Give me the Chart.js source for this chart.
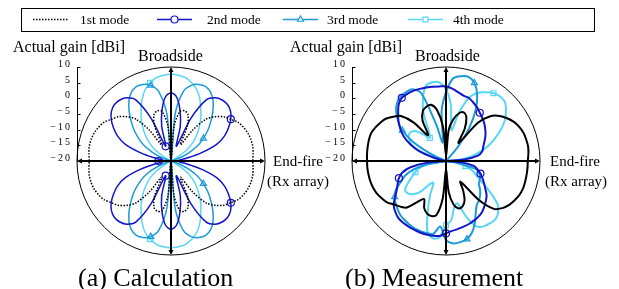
<!DOCTYPE html>
<html>
<head>
<meta charset="utf-8">
<script src="https://cdn.jsdelivr.net/npm/chart.js@4.4.1/dist/chart.umd.min.js"></script>
<style>
  body { margin: 0; background: #fff; }
  #wrap { position: relative; width: 619px; height: 289px; overflow: hidden;
          font-family: "Liberation Serif", "Times New Roman", serif; color: #000; }
  canvas { position: absolute; left: 0; top: 0; }
  .t { position: absolute; white-space: nowrap; line-height: 1; }
  .lbl { font-size: 15px; }
  .big { font-size: 16px; }
  .cap { font-size: 26px; }
  .leg { font-size: 13.5px; top: 13px; }
  .tick { font-size: 10px; letter-spacing: 2px; text-align: right; width: 40px; }
  #legbox { position: absolute; left: 21px; top: 8px; width: 572px; height: 22px; border: 1px solid #000; }
</style>
</head>
<body>
<div id="wrap">
  <div id="legbox"></div>
  <canvas id="calc" width="619" height="289"></canvas>
  <canvas id="meas" width="619" height="289"></canvas>

  <div class="t leg" style="left:80px">1st mode</div>
  <div class="t leg" style="left:207px">2nd mode</div>
  <div class="t leg" style="left:327px">3rd mode</div>
  <div class="t leg" style="left:453px">4th mode</div>

  <div class="t big" style="left:13px;top:39px">Actual gain [dBi]</div>
  <div class="t big" style="left:138px;top:48px">Broadside</div>
  <div class="t lbl" style="left:273px;top:154px">End-fire</div>
  <div class="t lbl" style="left:267px;top:174px">(Rx array)</div>
  <div class="t cap" style="left:78px;top:265px">(a) Calculation</div>

  <div class="t big" style="left:290px;top:39px">Actual gain [dBi]</div>
  <div class="t big" style="left:415px;top:48px">Broadside</div>
  <div class="t lbl" style="left:550px;top:154px">End-fire</div>
  <div class="t lbl" style="left:545px;top:174px">(Rx array)</div>
  <div class="t cap" style="left:345px;top:265px">(b) Measurement</div>
</div>

<script>
// angle from broadside (deg, clockwise), one sample every 5 deg
const angles = [0, 5, 10, 15, 20, 25, 30, 35, 40, 45, 50, 55, 60, 65, 70, 75, 80, 85,
  90, 95, 100, 105, 110, 115, 120, 125, 130, 135, 140, 145, 150, 155, 160, 165, 170, 175,
  180, 185, 190, 195, 200, 205, 210, 215, 220, 225, 230, 235, 240, 245, 250, 255, 260, 265,
  270, 275, 280, 285, 290, 295, 300, 305, 310, 315, 320, 325, 330, 335, 340, 345, 350, 355];

const gainTicks = [10, 5, 0, -5, -10, -15, -20];
const modeNames = ["1st mode", "2nd mode", "3rd mode", "4th mode"];

// (a) calculation, gain in dBi
const calcMode1 = [-20, -9, -4, -3.4, -4.2, -7.5, -14, -8, -2.5, 0, 2, 3.2, 4.7, 5.5, 6.1, 6.4, 6.5, 6.3,
  6.1, 6.3, 6.5, 6.4, 6.1, 5.5, 4.7, 3.2, 2, 0, -2.5, -8, -14, -7.5, -4.2, -3.4, -4, -9,
  -20, -9, -4, -3.4, -4.2, -7.5, -14, -8, -2.5, 0, 2, 3.2, 4.7, 5.5, 6.1, 6.4, 6.5, 6.3,
  6.1, 6.3, 6.5, 6.4, 6.1, 5.5, 4.7, 3.2, 2, 0, -2.5, -8, -14, -7.5, -4.2, -3.4, -4, -9];
const calcMode2 = [1.8, 0.5, -3.5, -8.5, -15, -5, 2.5, 4.6, 5.4, 5.5, 4.8, 3.3, 1.2, -1.2, -4.5, -10, -15, -17.5,
  -16, -17.5, -15, -10, -4.5, -1.2, 1.2, 3.3, 4.8, 5.5, 5.4, 4.6, 2.5, -5, -15, -8.5, -3.5, 0.5,
  1.8, 0.5, -3.5, -8.5, -15, -5, 2.5, 4.6, 5.4, 5.5, 4.8, 3.3, 1.2, -1.2, -4.5, -10, -15, -17.5,
  -16, -17.5, -15, -10, -4.5, -1.2, 1.2, 3.3, 4.8, 5.5, 5.4, 4.6, 2.5, -5, -15, -8.5, -3.5, 0.5];
const calcMode3 = [-20, -5, 2.5, 5, 6, 6.2, 5.3, 3.4, 0.8, -2, -4.6, -7.4, -10, -13.6, -17, -20, -20, -20,
  -20, -20, -20, -20, -17, -13.6, -10, -7.4, -4.6, -2, 0.8, 3.4, 5.3, 6.2, 6, 5, 2.5, -5,
  -20, -5, 2.5, 5, 6, 6.2, 5.3, 3.4, 0.8, -2, -4.6, -7.4, -10, -13.6, -17, -20, -20, -20,
  -20, -20, -20, -20, -17, -13.6, -10, -7.4, -4.6, -2, 0.8, 3.4, 5.3, 6.2, 6, 5, 2.5, -5];
const calcMode4 = [7.7, 7.5, 7, 5.8, 4.2, 1.8, -1, -3.4, -6, -8.5, -11, -14, -18, -20, -20, -20, -20, -20,
  -20, -20, -20, -20, -20, -20, -18, -14, -11, -8.5, -6, -3.4, -1, 1.8, 4.2, 5.8, 7, 7.5,
  7.7, 7.5, 7, 5.8, 4.2, 1.8, -1, -3.4, -6, -8.5, -11, -14, -18, -20, -20, -20, -20, -20,
  -20, -20, -20, -20, -20, -20, -18, -14, -11, -8.5, -6, -3.4, -1, 1.8, 4.2, 5.8, 7, 7.5];

// (b) measurement, gain in dBi
const measMode1 = [-18, -10, -6.5, -4.3, -3.5, -4.6, -8, -13, -4, 0.3, 2.4, 3.8, 5, 5.8, 6.3, 6.5, 6.6, 6.4,
  6.1, 6.1, 6.1, 6.1, 6.1, 5.8, 5.2, 4.5, 3.4, 1.6, -4, -12, -9, -6, -4.6, -4.3, -5.8, -10,
  -17, -8, -2.5, -1.8, -2.2, -3.5, -6, -4, -0.6, 0.6, 1.6, 3, 3.7, 4.4, 4.8, 5, 5.1, 5.2,
  5.2, 5.3, 5.4, 5.5, 5.5, 5, 4.3, 3.5, 2, 0.3, -4, -10, -5, -2.5, -1.6, -1.4, -3.5, -9];
const measMode2 = [3.8, 3.2, 2.3, 1.6, 1.4, 0.6, -0.2, -1.2, -2, -2.8, -3.7, -4.6, -5.6, -6.6, -7.4, -8, -9.5, -14,
  -20, -15, -11, -9.6, -8.3, -7.2, -6, -4.7, -3.1, -2, -1, 0, 0.6, 1, 1.4, 1.7, 2, 2.4,
  3.1, 4, 4.2, 4.3, 4.3, 4.2, 4.1, 4, 3.7, 2.9, 1.8, -0.2, -1.9, -3, -4, -5.5, -8.5, -14,
  -20, -20, -19, -16, -11, -7.5, -4.5, -2.2, -0.2, 1.6, 3.5, 4.6, 4.7, 4.7, 4.5, 4.3, 4.1, 3.9];
const measMode3 = [2, 6.5, 7.5, 7.8, 6.5, 3.5, -1, -7, -14, -20, -20, -20, -20, -20, -20, -20, -20, -20,
  -20, -20, -16, -10, -8.8, -8, -7.6, -7.2, -5.8, -4.6, -3.6, -2.9, -1, 1.8, 4.3, 5.8, 6.3, 6.4,
  5.2, 1, 3.7, 3.8, 3.8, 3.7, 3.4, 3, 2.6, 1.8, 1, 0, -1.5, -4, -6, -9, -14, -20,
  -20, -20, -20, -20, -20, -15, -8, -3, 0, 2.5, 4.3, 5.2, 5.4, 5.3, 3, -8, -14, -4];
const measMode4 = [3, -2, -10, -4, 1.5, 4, 5.3, 6.4, 6.9, 6.6, 5, 3, 0.3, -2.7, -5.5, -8.8, -12, -16,
  -20, -20, -16, -13.6, -11, -9.5, -7, -3, 1.5, 3.5, 4.4, 4.3, 4.1, 3, -1, -6, -5, -1,
  0.5, 4.5, 5, 3, -3, -8, -12, -11, -7, -5, -4, -4, -6, -8, -9.6, -11, -14, -20,
  -20, -20, -20, -18, -12, -8, -6.5, -5.5, -5.5, -6.6, -9, -11, -9, -3, 1.5, 4.8, 5.5, 5.2];

// angles carrying a marker
const calcMarks = [[], [55, 125, 200, 270, 340], [345, 55, 125, 195], [345, 195]];
const measMarks = [[], [35, 110, 180, 250, 325], [20, 165, 235, 305], [35, 105, 180, 250, 325]];

const colors = ["#000000", "#1414c8", "#1c9ad8", "#58d6f6"];
const markerStyles = [false, "circle", "triangle", "rect"];

function makeDatasets(series, marks, width, firstDashed) {
  return series.map((vals, i) => ({
    label: modeNames[i],
    data: vals,
    fill: false,
    borderColor: colors[i],
    borderWidth: width,
    borderDash: i === 0 && firstDashed ? [1.5, 1.5] : [],
    tension: 0.3,
    pointStyle: markerStyles[i] || "circle",
    pointRadius: angles.map((a) => (marks[i].includes(a) ? 3.5 : 0)),
    pointBorderColor: colors[i],
    pointBorderWidth: 1.2,
    pointBackgroundColor: "rgba(0,0,0,0)",
  }));
}

function arrowHead(ctx, x, y, dx, dy) {
  const s = 5;
  ctx.beginPath();
  ctx.moveTo(x, y);
  ctx.lineTo(x - dx * s - dy * 2.5, y - dy * s - dx * 2.5);
  ctx.lineTo(x - dx * s + dy * 2.5, y - dy * s + dx * 2.5);
  ctx.closePath();
  ctx.fill();
}

// axes, arrows and the gain axis on the left of each plot
const polarFrame = {
  id: "polarFrame",
  afterDatasetsDraw(chart) {
    const r = chart.scales.r;
    const ctx = chart.ctx;
    const cx = r.xCenter, cy = r.yCenter, R = r.drawingArea;
    ctx.save();
    ctx.strokeStyle = "#000";
    ctx.fillStyle = "#000";
    ctx.lineWidth = 2;
    ctx.beginPath();
    ctx.moveTo(cx - R + 3, cy); ctx.lineTo(cx + R - 3, cy);
    ctx.moveTo(cx, cy - R + 3); ctx.lineTo(cx, cy + R - 3);
    ctx.stroke();
    arrowHead(ctx, cx - R, cy, -1, 0);
    arrowHead(ctx, cx + R, cy, 1, 0);
    arrowHead(ctx, cx, cy - R, 0, -1);
    arrowHead(ctx, cx, cy + R, 0, 1);

    // gain axis
    const ax = cx - R;
    ctx.lineWidth = 1;
    ctx.beginPath();
    ctx.moveTo(ax + 0.5, cy - R);
    ctx.lineTo(ax + 0.5, cy);
    gainTicks.forEach((v) => {
      const y = Math.round(cy - r.getDistanceFromCenterForValue(v)) + 0.5;
      ctx.moveTo(ax + 0.5, y);
      ctx.lineTo(ax + 3.5, y);
    });
    ctx.stroke();
    ctx.restore();
  },
};

// legend line samples (drawn once, on the left chart's canvas)
const legendSamples = {
  id: "legendSamples",
  afterDraw(chart) {
    const ctx = chart.ctx;
    const y = 19.5;
    const starts = [33, 157, 283, 408];
    ctx.save();
    starts.forEach((x0, i) => {
      ctx.strokeStyle = colors[i];
      ctx.lineWidth = 1.5;
      ctx.setLineDash(i === 0 ? [1.5, 1.5] : []);
      ctx.beginPath();
      ctx.moveTo(x0, y);
      ctx.lineTo(x0 + 35, y);
      ctx.stroke();
      ctx.setLineDash([]);
      if (markerStyles[i]) {
        ctx.lineWidth = 1.2;
        ctx.fillStyle = "#fff";
        Chart.helpers.drawPoint(ctx, { pointStyle: markerStyles[i], radius: 3.5, rotation: 0, borderWidth: 1.2 }, x0 + 17.5, y);
      }
    });
    ctx.restore();
  },
};

function makeChart(id, series, marks, width, firstDashed, padding, extraPlugins) {
  return new Chart(document.getElementById(id), {
    type: "radar",
    data: { labels: angles, datasets: makeDatasets(series, marks, width, firstDashed) },
    options: {
      responsive: false,
      animation: false,
      events: [],
      layout: { padding: padding },
      plugins: { legend: { display: false }, tooltip: { enabled: false } },
      elements: { line: { capBezierPoints: false } },
      scales: {
        r: {
          min: -20,
          max: 10,
          startAngle: 0,
          ticks: { display: false, stepSize: 5 },
          pointLabels: { display: false },
          angleLines: { display: false },
          grid: {
            circular: true,
            lineWidth: 1,
            color: (c) => (c.tick && c.tick.value === 10 ? "#000" : "rgba(0,0,0,0)"),
          },
        },
      },
    },
    plugins: [polarFrame].concat(extraPlugins),
  });
}

const calcChart = makeChart("calc", [calcMode1, calcMode2, calcMode3, calcMode4], calcMarks, 1.5, true,
  { left: 77, top: 67, right: 354, bottom: 34 }, [legendSamples]);
const measChart = makeChart("meas", [measMode1, measMode2, measMode3, measMode4], measMarks, 2, false,
  { left: 352, top: 67, right: 79, bottom: 34 }, []);

// gain tick labels beside each plot
[calcChart, measChart].forEach((chart) => {
  const r = chart.scales.r;
  gainTicks.forEach((v) => {
    const d = document.createElement("div");
    d.className = "t tick";
    d.textContent = v < 0 ? "\u2212" + Math.abs(v) : String(v);
    d.style.left = (r.xCenter - r.drawingArea - 45) + "px";
    d.style.top = (r.yCenter - r.getDistanceFromCenterForValue(v) - 8) + "px";
    document.getElementById("wrap").appendChild(d);
  });
});
</script>
</body>
</html>
